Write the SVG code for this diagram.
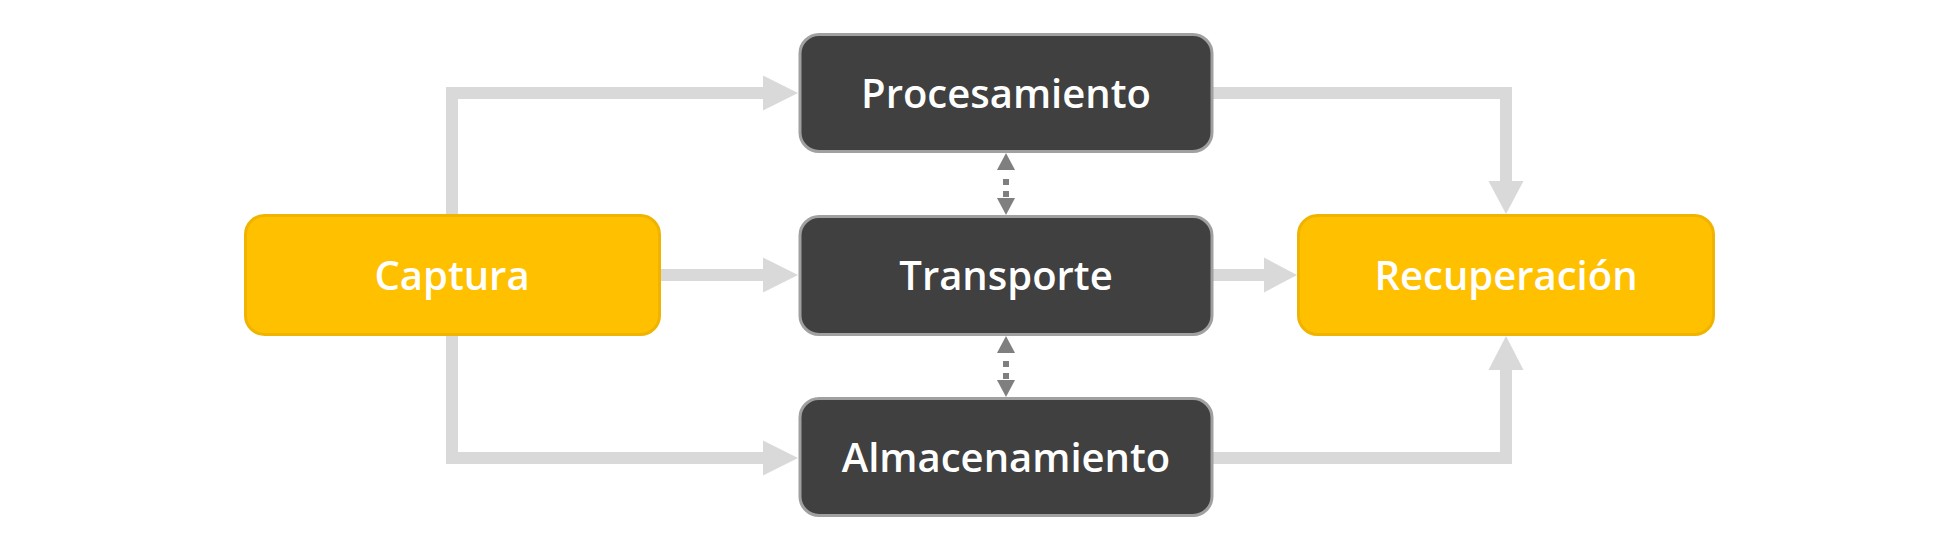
<svg xmlns="http://www.w3.org/2000/svg" width="1960" height="550" viewBox="0 0 1960 550">
<style>
.conn{fill:none;stroke:#d9d9d9;stroke-width:12;stroke-linejoin:miter}
.head{fill:#d9d9d9}
.dot{fill:none;stroke:#7f7f7f;stroke-width:6;stroke-dasharray:6 6}
.dhead{fill:#7f7f7f}
.yel{fill:#ffc000;stroke:#f0b400;stroke-width:3}
.dark{fill:#404040;stroke:#a0a0a0;stroke-width:3}
.lbl{font-family:"Open Sans","Noto Sans","Liberation Sans",sans-serif;font-weight:600;font-size:40px;fill:#ffffff;text-anchor:middle}
</style>
<rect width="1960" height="550" fill="#ffffff"/>
<g id="connectors">
  <polyline class="conn" points="452,215 452,93 764,93"/>
  <polygon class="head" points="763,75.5 798,93 763,110.5"/>
  <line class="conn" x1="660" y1="275" x2="764" y2="275"/>
  <polygon class="head" points="763,257.5 798,275 763,292.5"/>
  <polyline class="conn" points="452,335 452,458 764,458"/>
  <polygon class="head" points="763,440.5 798,458 763,475.5"/>
  <polyline class="conn" points="1212,93 1506,93 1506,182"/>
  <polygon class="head" points="1488.5,181 1506,214 1523.5,181"/>
  <line class="conn" x1="1212" y1="275" x2="1265" y2="275"/>
  <polygon class="head" points="1264,257.5 1297,275 1264,292.5"/>
  <polyline class="conn" points="1212,458 1506,458 1506,369"/>
  <polygon class="head" points="1488.5,370 1506,336 1523.5,370"/>
  <line class="dot" x1="1006" y1="179" x2="1006" y2="197"/>
  <polygon class="dhead" points="997,170 1006,153 1015,170"/>
  <polygon class="dhead" points="997,198 1006,215 1015,198"/>
  <line class="dot" x1="1006" y1="361" x2="1006" y2="379"/>
  <polygon class="dhead" points="997,353 1006,336 1015,353"/>
  <polygon class="dhead" points="997,380 1006,397 1015,380"/>
</g>
<g id="captura">
  <rect class="yel" x="245.5" y="215.5" width="414" height="119" rx="19"/>
  <text class="lbl" x="452" y="290">Captura</text>
</g>
<g id="procesamiento">
  <rect class="dark" x="800" y="34.5" width="412" height="117" rx="19"/>
  <text class="lbl" x="1006" y="108">Procesamiento</text>
</g>
<g id="transporte">
  <rect class="dark" x="800" y="216.5" width="412" height="118" rx="19"/>
  <text class="lbl" x="1006" y="290">Transporte</text>
</g>
<g id="almacenamiento">
  <rect class="dark" x="800" y="398.5" width="412" height="117" rx="19"/>
  <text class="lbl" x="1006" y="472">Almacenamiento</text>
</g>
<g id="recuperacion">
  <rect class="yel" x="1298.5" y="215.5" width="415" height="119" rx="19"/>
  <text class="lbl" x="1506" y="290">Recuperación</text>
</g>
</svg>
